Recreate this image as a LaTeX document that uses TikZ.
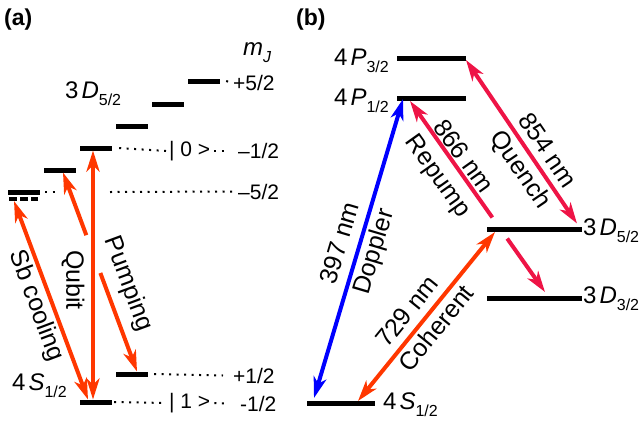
\documentclass[tikz,border=0pt]{standalone}
\usepackage{fontspec}
\setmainfont{Liberation Sans}
\usetikzlibrary{arrows.meta,calc}
\definecolor{laserorange}{RGB}{255,55,0}
\definecolor{laserred}{RGB}{238,20,70}
\definecolor{laserblue}{RGB}{0,0,255}
\newcommand\lvname[3]{#1\hspace{3pt}\textit{#2}\raisebox{-0.33em}{\fontsize{16pt}{16pt}\selectfont #3}}
\begin{document}
\begin{tikzpicture}[x=1pt,y=-1pt,
  levelbar/.style={fill=black, inner sep=0pt, minimum height=5pt, minimum width=#1},
  levelbar/.default=32pt,
  sublevel/.style={line width=3.5pt, dash pattern=on 7.5pt off 3.7pt},
  dots/.style={line width=2pt, dash pattern=on 2pt off 5.5pt},
  lab/.style={font=\fontsize{21pt}{21pt}\selectfont, inner sep=0pt},
  lvlab/.style={font=\fontsize{24pt}{24pt}\selectfont, inner sep=0pt},
  arlab/.style={font=\fontsize{25pt}{25pt}\selectfont, inner sep=0pt},
  panel/.style={font=\fontsize{23pt}{23pt}\selectfont\bfseries, inner sep=0pt},
  >={Stealth[length=21pt,width=13pt,inset=6pt]},
  arr/.style={line width=4pt}
]
\useasboundingbox (0,0) rectangle (644,426);

% ---------------- panel (a) ----------------
\node[panel, anchor=west] (pa) at (4,20) {(a)};
\node[lvlab, anchor=base west] (mj) at (243,55) {\textit{m}\raisebox{-0.3em}{\fontsize{16pt}{16pt}\selectfont\textit{J}}};

\node[levelbar] (a1) at (24,192) {};
\coordinate (a1dl) at (9,199);
\coordinate (a1dr) at (38,199);
\draw[sublevel] (a1dl) -- (a1dr);
\node[levelbar] (a2) at (60,170) {};
\node[levelbar] (a3) at (96,148) {};
\node[levelbar] (a4) at (132,126) {};
\node[levelbar] (a5) at (168,104) {};
\node[levelbar] (a6) at (204,81) {};
\node[levelbar] (s1) at (132,374) {};
\node[levelbar] (s0) at (96,402) {};

\node[lvlab, anchor=base west] (d52a) at (65,98) {\lvname{3}{D}{5/2}};
\node[lvlab, anchor=base west] (s12a) at (12,390) {\lvname{4}{S}{1/2}};

% m_J labels
\node[lab, anchor=west] (mp52) at (233,82.5) {+5/2};
\node[lab, anchor=west] (ket0) at (169,151) {| 0 >};
\node[lab, anchor=west] (mm12) at (238,151) {–1/2};
\node[lab, anchor=west] (mm52) at (238,191.5) {–5/2};
\node[lab, anchor=west] (mp12) at (233,375.5) {+1/2};
\node[lab, anchor=west] (ket1) at (169,403) {| 1 >};
\node[lab, anchor=west] (mm12b) at (240,403.5) {-1/2};

% dotted guides
\draw[dots] ([xshift=6pt]a6.east) -- ([xshift=-2pt]mp52.west);
\draw[dots] ([xshift=7pt]a3.east) -- ([xshift=-3pt]ket0.west);
\draw[dots] ([xshift=4pt]ket0.east) -- ([xshift=-9pt]mm12.west);
\coordinate (g1) at (45,192);
\coordinate (g2) at (57,192);
\coordinate (g3) at (110,192);
\draw[dots] (g1) -- (g2);
\draw[dots] (g3) -- ([xshift=-6pt]mm52.west);
\draw[dots] ([xshift=6pt]s1.east) -- ([xshift=-10pt]mp12.west);
\draw[dots] ([xshift=2pt]s0.east) -- ([xshift=-3pt]ket1.west);
\draw[dots] ([xshift=4pt]ket1.east) -- ([xshift=-11pt]mm12b.west);

% arrows (a)
\coordinate (sbT) at (14,201);
\coordinate (sbB) at (88,399.5);
\coordinate (qbT) at (93,150.5);
\coordinate (qbB) at (93,399.5);
\coordinate (pmT) at (63,172.5);
\coordinate (pmB) at (137,371.5);
\draw[arr, laserorange, <->] (sbB) -- (sbT);
\draw[arr, laserorange, <->] (qbB) -- (qbT);
\draw[arr, laserorange, ->] ($(pmT)!0.315!(pmB)$) -- (pmT);
\draw[arr, laserorange, ->] ($(pmT)!0.505!(pmB)$) -- (pmB);

\node[arlab, rotate=-69.4] (tsb) at (36,306) {Sb cooling};
\node[arlab, rotate=-90] (tqb) at (73,280) {Qubit};
\node[arlab, rotate=-69.7] (tpm) at (128,284) {Pumping};

% ---------------- panel (b) ----------------
\node[panel, anchor=west] (pb) at (296,20) {(b)};

\node[levelbar=69pt] (P3) at (431.5,58) {};
\node[levelbar=69pt] (P1) at (431.5,98) {};
\node[levelbar=95pt] (D5) at (534.5,229) {};
\node[levelbar=95pt] (D3) at (534.5,298) {};
\node[levelbar=68pt] (S) at (341,403) {};

\node[lvlab, anchor=base east] (lP3) at (389,65) {\lvname{4}{P}{3/2}};
\node[lvlab, anchor=base east] (lP1) at (389,105) {\lvname{4}{P}{1/2}};
\node[lvlab, anchor=base west] (lD5) at (583,235) {\lvname{3}{D}{5/2}};
\node[lvlab, anchor=base west] (lD3) at (583,303) {\lvname{3}{D}{3/2}};
\node[lvlab, anchor=base west] (lS) at (383,409) {\lvname{4}{S}{1/2}};

\coordinate (blT) at (403,99);
\coordinate (blB) at (314,398);
\coordinate (rpT) at (410,101);
\coordinate (rpB) at (545,292);
\coordinate (qnT) at (466,60);
\coordinate (qnB) at (577,223.5);
\coordinate (chB) at (358,401);
\coordinate (chT) at (495,232);

\draw[arr, laserblue, <->] (blB) -- (blT);
\draw[arr, laserred, ->] ($(rpT)!0.61!(rpB)$) -- (rpT);
\draw[arr, laserred, ->] ($(rpT)!0.72!(rpB)$) -- (rpB);
\draw[arr, laserred, <->] (qnT) -- (qnB);
\draw[arr, laserorange, <->] (chB) -- (chT);

\node[arlab, rotate=73.5] (t397) at (339,243) {397 nm};
\node[arlab, rotate=73.5] (tdop) at (375,252) {Doppler};
\node[arlab, rotate=-54.6] (t866) at (464,156) {866 nm};
\node[arlab, rotate=-54.6] (trep) at (437,177) {Repump};
\node[arlab, rotate=-55.8] (t854) at (548,150) {854 nm};
\node[arlab, rotate=-55.8] (tqn) at (520,170) {Quench};
\node[arlab, rotate=51] (t729) at (407,311) {729 nm};
\node[arlab, rotate=51] (tcoh) at (436,328) {Coherent};
\end{tikzpicture}
\end{document}
